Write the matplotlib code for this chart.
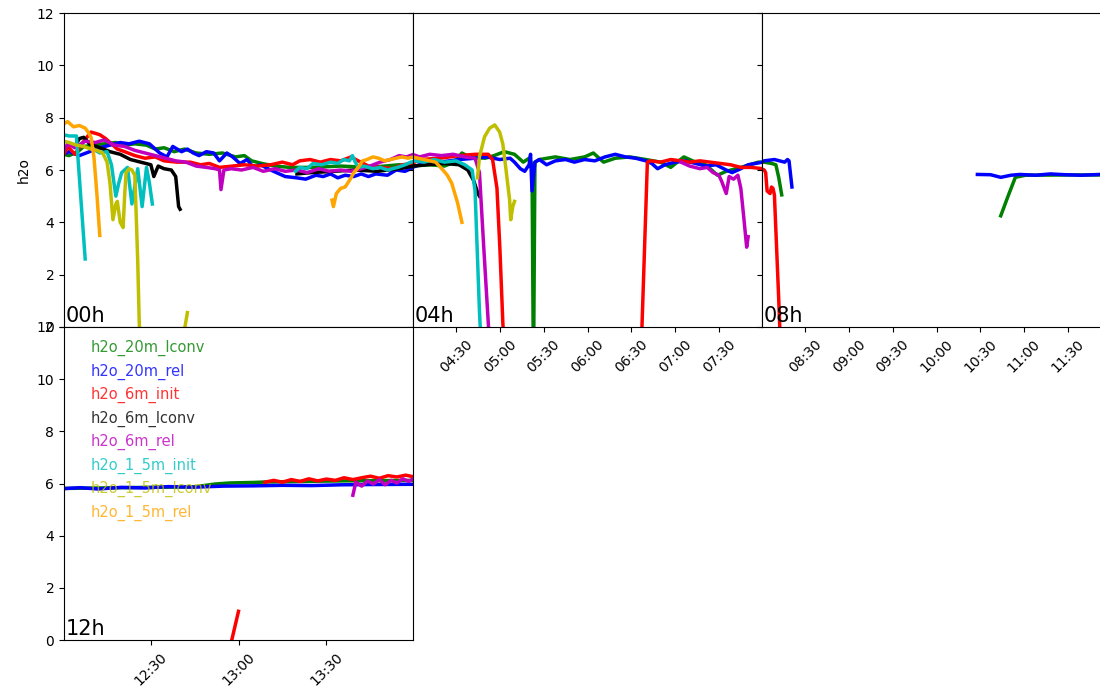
import matplotlib
import matplotlib.pyplot as plt
import matplotlib.dates as mdates
import numpy as np
from datetime import datetime, timedelta
matplotlib.use('Agg')

nan = np.nan

names = ['h2o_20m_lconv', 'h2o_20m_rel', 'h2o_6m_init', 'h2o_6m_lconv',
         'h2o_6m_rel', 'h2o_1_5m_init', 'h2o_1_5m_lconv', 'h2o_1_5m_rel']
colors = ['g', 'b', 'r', 'k', 'm', 'c', 'y', 'orange']

# h2o_20m_lconv
g20_t = ['00:00', '00:04', '00:10', '00:14', '00:21', '00:28', '00:36', '00:42', '00:49', '00:57',
         '01:03', '01:09', '01:16', '01:23', '01:31', '01:40', '01:49', '01:58', '02:04', '02:09',
         '02:16', '02:25', '02:35', '02:50', '03:10', '03:30', '03:50', '04:00', '04:12', '04:22',
         '04:29', '04:34', '04:39', '04:50', '04:56', '05:03', '05:10', '05:16', '05:20', '05:22',
         '05:23', '05:24', '05:27', '05:38', '05:48', '05:58', '06:04', '06:11', '06:19', '06:29',
         '06:40', '06:50', '06:57', '07:06', '07:14', '07:21', '07:29', '07:35', '07:45', '07:57',
         '08:02', '08:07', '08:10', '08:12', '08:14', '08:15', '10:44', '10:49', '10:54', '11:01',
         '11:30', '12:00', '12:20', '12:45', '12:52', '12:57', '13:05', '13:10', '13:35', '14:00']
g20_v = [6.6, 6.55, 6.7, 6.9, 6.95, 7.0, 7.05, 6.95, 7.0, 6.95,
         6.8, 6.85, 6.7, 6.8, 6.65, 6.6, 6.65, 6.5, 6.55, 6.35,
         6.25, 6.15, 6.1, 6.1, 6.15, 6.1, 6.2, 6.15, 6.2, 6.15,
         6.3, 6.65, 6.5, 6.45, 6.55, 6.7, 6.6, 6.3, 6.45, 6.2,
         -2.0, 6.3, 6.4, 6.5, 6.4, 6.5, 6.65, 6.3, 6.45, 6.5,
         6.4, 6.3, 6.1, 6.5, 6.3, 6.2, 5.8, 5.95, 6.1, 6.3,
         6.3, 6.25, 6.2, 5.7, 5.05, nan, 4.25, 5.0, 5.72, 5.8,
         5.81, 5.81, 5.84, 5.87, 5.98, 6.02, 6.04, 6.06, 6.1, 6.12]

# h2o_20m_rel
b20_t = ['00:00', '00:04', '00:11', '00:18', '00:25', '00:32', '00:39', '00:45', '00:52', '00:59',
         '01:06', '01:11', '01:15', '01:21', '01:25', '01:29', '01:33', '01:38', '01:43', '01:47',
         '01:52', '01:56', '02:01', '02:06', '02:10', '02:15', '02:22', '02:28', '02:32', '02:40',
         '02:46', '02:53', '02:58', '03:03', '03:08', '03:13', '03:19', '03:24', '03:29', '03:34',
         '03:42', '03:48', '03:54', '04:00', '04:05', '04:19', '04:32', '04:43', '04:51', '05:00',
         '05:07', '05:10', '05:14', '05:17', '05:20', '05:21', '05:22', '05:24', '05:27', '05:32',
         '05:38', '05:45', '05:51', '05:58', '06:05', '06:12', '06:19', '06:26', '06:33', '06:40',
         '06:44', '06:48', '06:53', '07:00', '07:07', '07:14', '07:21', '07:28', '07:35', '07:39',
         '07:45', '07:50', '07:55', '08:00', '08:02', '08:09', '08:16', '08:18', '08:19', '08:21',
         '08:22', '10:28', '10:37', '10:44', '10:51', '10:57', '11:08', '11:18', '11:28', '11:39',
         '11:52', '12:00', '12:06', '12:12', '12:20', '12:28', '12:36', '12:45', '12:55', '13:05',
         '13:15', '13:25', '13:35', '13:45', '14:00']
b20_v = [6.6, 6.7, 6.55, 6.7, 6.85, 6.95, 7.05, 7.0, 7.1, 7.0,
         6.65, 6.5, 6.9, 6.7, 6.8, 6.65, 6.55, 6.7, 6.65, 6.35,
         6.65, 6.5, 6.25, 6.4, 6.1, 6.2, 6.0, 5.85, 5.75, 5.7,
         5.65, 5.8, 5.75, 5.85, 5.7, 5.8, 5.75, 5.85, 5.75, 5.85,
         5.8, 6.0, 5.95, 6.1, 6.2, 6.3, 6.4, 6.45, 6.5, 6.4,
         6.45, 6.3, 6.05, 5.95, 6.2, 6.6, 5.2, 6.3, 6.4, 6.2,
         6.35, 6.4, 6.3, 6.4, 6.35, 6.5, 6.6, 6.5, 6.45, 6.35,
         6.25, 6.05, 6.2, 6.3, 6.35, 6.25, 6.15, 6.2, 6.0, 5.9,
         6.05, 6.2, 6.25, 6.3, 6.35, 6.4, 6.3, 6.4, 6.35, 5.35,
         nan, 5.83, 5.82, 5.72, 5.8, 5.83, 5.8, 5.85, 5.82, 5.8,
         5.83, 5.8, 5.84, 5.79, 5.85, 5.83, 5.88, 5.86, 5.9, 5.91,
         5.93, 5.92, 5.95, 5.96, 5.97]

# h2o_6m_init
r6_t = ['00:00', '00:03', '00:08', '00:14', '00:19', '00:25', '00:29', '00:33', '00:37', '00:42',
        '00:49', '00:56', '01:03', '01:09', '01:18', '01:27', '01:34', '01:40', '01:47', '01:56',
        '02:04', '02:13', '02:22', '02:30', '02:37', '02:42', '02:49', '02:56', '03:03', '03:10',
        '03:17', '03:22', '03:29', '03:37', '03:46', '03:52', '04:00', '04:05', '04:19', '04:32',
        '04:43', '04:52', '04:55', '04:58', '05:00', '05:02', '05:03', '05:04', '06:37', '06:41',
        '06:43', '06:50', '06:57', '07:04', '07:10', '07:17', '07:24', '07:31', '07:38', '07:45',
        '07:52', '08:00', '08:02', '08:03', '08:04', '08:06', '08:07', '08:08', '08:09', '08:12',
        '08:13', '08:14', '12:57:30', '13:00', '13:01', '13:09', '13:12', '13:15', '13:18', '13:21',
        '13:24', '13:27', '13:30', '13:33', '13:36', '13:39', '13:42', '13:45', '13:48', '13:51',
        '13:54', '13:57', '14:00']
r6_v = [6.55, 6.9, 6.6, 7.1, 7.45, 7.35, 7.2, 7.0, 6.8, 6.7,
        6.55, 6.45, 6.5, 6.35, 6.3, 6.3, 6.2, 6.25, 6.1, 6.15,
        6.2, 6.15, 6.2, 6.3, 6.2, 6.35, 6.4, 6.3, 6.4, 6.35,
        6.5, 6.35, 6.15, 6.1, 6.05, 6.2, 6.25, 6.4, 6.45, 6.55,
        6.6, 6.6, 6.4, 5.3, 3.0, 0.2, -1.0, nan, -0.5, 6.3,
        6.35, 6.3, 6.4, 6.35, 6.3, 6.35, 6.3, 6.25, 6.2, 6.1,
        6.1, 6.05, 6.0, 5.9, 5.2, 5.1, 5.35, 5.3, 5.05, 1.0,
        -0.5, nan, -0.1, 1.1, nan, 6.05, 6.12, 6.05, 6.15, 6.08,
        6.18, 6.1, 6.17, 6.12, 6.22, 6.15, 6.22, 6.28, 6.2, 6.3,
        6.25, 6.32, 6.25]

# h2o_6m_lconv
k6_t = ['00:08', '00:11', '00:14', '00:18', '00:25', '00:32', '00:39', '00:46', '00:53', '01:00',
        '01:02', '01:05', '01:09', '01:14', '01:17', '01:19', '01:20', '01:21', '02:40', '02:50',
        '03:05', '03:20', '03:35', '03:50', '04:00', '04:10', '04:22', '04:32', '04:38', '04:42',
        '04:45', '04:46']
k6_v = [6.9, 7.2, 7.25, 7.0, 6.85, 6.7, 6.6, 6.4, 6.3, 6.2,
        5.75, 6.15, 6.05, 6.0, 5.75, 4.6, 4.5, nan, 5.85, 5.9,
        5.95, 6.0, 5.95, 6.05, 6.15, 6.2, 6.25, 6.2, 6.0, 5.6,
        5.1, 5.0]

# h2o_6m_rel
m6_t = ['00:00', '00:03', '00:08', '00:15', '00:22', '00:28', '00:35', '00:42', '00:49', '00:56',
        '01:03', '01:10', '01:17', '01:24', '01:31', '01:38', '01:44', '01:47', '01:48', '01:50',
        '01:55', '02:02', '02:10', '02:17', '02:25', '02:32', '02:40', '02:47', '02:55', '03:02',
        '03:10', '03:17', '03:24', '03:30', '03:37', '03:44', '03:50', '03:55', '04:00', '04:05',
        '04:12', '04:20', '04:28', '04:36', '04:43', '04:46', '04:49', '04:52', '04:53', '04:54',
        '07:04', '07:10', '07:17', '07:22', '07:26', '07:30', '07:32', '07:35', '07:37', '07:40',
        '07:43', '07:45', '07:47', '07:49', '07:50', '07:51', '13:39', '13:40', '13:42', '13:44',
        '13:46', '13:48', '13:50', '13:52', '13:54', '13:56', '13:58', '14:00']
m6_v = [6.7, 7.0, 6.85, 7.1, 7.05, 7.15, 6.95, 6.9, 6.75, 6.65,
        6.55, 6.45, 6.35, 6.3, 6.15, 6.1, 6.05, 6.0, 5.25, 6.0,
        6.05, 6.0, 6.1, 5.95, 6.05, 5.95, 6.0, 5.9, 6.05, 5.95,
        6.0, 5.95, 6.05, 6.15, 6.3, 6.4, 6.55, 6.5, 6.6, 6.5,
        6.6, 6.55, 6.6, 6.5, 6.45, 5.9, 3.0, 0.2, -0.8, nan,
        6.3, 6.15, 6.05, 6.1, 5.9, 5.8, 5.55, 5.1, 5.75, 5.65,
        5.8, 5.3, 4.2, 3.05, 3.45, nan, 5.55, 6.05, 5.9, 6.1,
        5.98, 6.15, 5.95, 6.12, 6.02, 6.18, 6.08, 6.2]

# h2o_1_5m_init
c15_t = ['00:00', '00:04', '00:09', '00:15', '00:16', '00:22', '00:25', '00:30', '00:33', '00:36',
         '00:38', '00:40', '00:44', '00:47', '00:51', '00:54', '00:57', '00:59', '01:01', '01:02',
         '02:39', '02:42', '02:47', '02:51', '02:57', '03:03', '03:08', '03:12', '03:16', '03:18',
         '03:20', '03:22', '03:26', '03:32', '03:37', '03:42', '03:49', '03:54', '03:58', '04:02',
         '04:08', '04:15', '04:22', '04:30', '04:36', '04:41', '04:43', '04:46', '04:47']
c15_v = [7.35, 7.3, 7.3, 2.6, nan, 6.75, 6.65, 6.7, 6.2, 5.0,
         5.5, 5.9, 6.1, 4.7, 6.05, 4.6, 6.1, 5.5, 4.7, nan,
         5.95, 6.1, 6.05, 6.25, 6.2, 6.3, 6.25, 6.4, 6.35, 6.55,
         6.3, 6.1, 6.15, 6.05, 6.1, 6.0, 6.1, 6.2, 6.3, 6.35,
         6.3, 6.4, 6.3, 6.35, 6.2, 6.0, 5.2, 0.6, -0.5]

# h2o_1_5m_lconv
y15_t = ['00:00', '00:04', '00:09', '00:14', '00:19', '00:23', '00:27', '00:30', '00:32', '00:34',
         '00:36', '00:37', '00:39', '00:41', '00:42', '00:43', '00:45', '00:47', '00:49', '00:50',
         '00:51', '00:52', '00:53', '00:54', '01:23', '01:25', '01:26', '04:44:40', '04:46', '04:49:30',
         '04:53', '04:56:30', '04:59:50', '05:02', '05:04', '05:06:40', '05:07:25', '05:08:50', '05:10']
y15_v = [7.1, 7.05, 6.95, 6.9, 6.8, 6.75, 6.65, 6.3, 5.5, 4.1,
         4.7, 4.8, 4.0, 3.8, 5.0, 5.9, 6.05, 6.0, 5.8, 4.2,
         2.5, 0.2, -1.0, nan, -0.1, 0.55, nan, 5.7, 6.5, 7.27,
         7.6, 7.72, 7.45, 7.0, 6.1, 4.85, 4.1, 4.6, 4.8]

# h2o_1_5m_rel
o15_t = ['00:00', '00:03', '00:07', '00:11', '00:15', '00:17', '00:19', '00:21', '00:23', '00:25',
         '00:26', '03:04', '03:05', '03:07', '03:10', '03:13', '03:16', '03:19', '03:22', '03:25',
         '03:28', '03:32', '03:36', '03:40', '03:44', '03:48', '03:52', '03:56', '04:00', '04:04',
         '04:08', '04:12', '04:16', '04:21', '04:24', '04:27', '04:31', '04:34']
o15_v = [7.75, 7.85, 7.65, 7.7, 7.6, 7.45, 7.25, 6.5, 5.1, 3.5,
         nan, 4.85, 4.6, 5.1, 5.3, 5.35, 5.6, 5.9, 6.1, 6.35,
         6.4, 6.5, 6.45, 6.35, 6.4, 6.45, 6.5, 6.45, 6.5, 6.45,
         6.4, 6.35, 6.3, 6.0, 5.8, 5.5, 4.75, 4.0]

all_t = [g20_t, b20_t, r6_t, k6_t, m6_t, c15_t, y15_t, o15_t]
all_v = [g20_v, b20_v, r6_v, k6_v, m6_v, c15_v, y15_v, o15_v]

panel_labels = ['00h', '04h', '08h', '12h']
panel_start = [0, 4, 8, 12]
panel_len = [4, 4, 4, 2]

day = datetime(2021, 6, 1)


def to_dt(times):
    out = []
    for s in times:
        p = [int(x) for x in s.split(':')]
        if len(p) == 2:
            p.append(0)
        out.append(day + timedelta(hours=p[0], minutes=p[1], seconds=p[2]))
    return out


fig = plt.figure(figsize=(11, 6.96), dpi=100)
W, H = 1100.0, 696.0
# pixel boxes (left, top, right, bottom)
boxes = [(64, 13, 413, 327), (413, 13, 762, 327), (762, 13, 1111, 327), (64, 327, 413, 640)]

axes = []
for i, (l, t, r, b) in enumerate(boxes):
    ax = fig.add_axes([l / W, 1 - b / H, (r - l) / W, (b - t) / H])
    axes.append(ax)
    for tt, vv, c, n in zip(all_t, all_v, colors, names):
        ax.plot(to_dt(tt), vv, color=c, lw=2.5, label=n)
    t0 = day + timedelta(hours=panel_start[i])
    ax.set_xlim(t0 + timedelta(seconds=30), t0 + timedelta(hours=panel_len[i]) - timedelta(seconds=30))
    ax.set_ylim(0, 12)
    ax.set_yticks(range(0, 13, 2))
    ax.xaxis.set_major_locator(mdates.MinuteLocator(byminute=[0, 30]))
    ax.xaxis.set_major_formatter(mdates.DateFormatter('%H:%M'))
    ax.tick_params(axis='x', labelrotation=45)
    ax.text(0.004, 0.004, panel_labels[i], transform=ax.transAxes, fontsize=15,
            ha='left', va='bottom')
    if i in (1, 2):
        ax.tick_params(axis='y', labelleft=False)
    if i == 0:
        ax.tick_params(axis='x', labelbottom=False)
        ax.set_ylabel('h2o')

leg = axes[3].legend(loc='upper left', frameon=False, handlelength=0, handletextpad=0.9,
                     fontsize=10.5)
for txt, c in zip(leg.get_texts(), colors):
    txt.set_color(c)
    txt.set_alpha(0.8)
for h in leg.legend_handles:
    h.set_visible(False)

plt.savefig('out.png', dpi=100)
